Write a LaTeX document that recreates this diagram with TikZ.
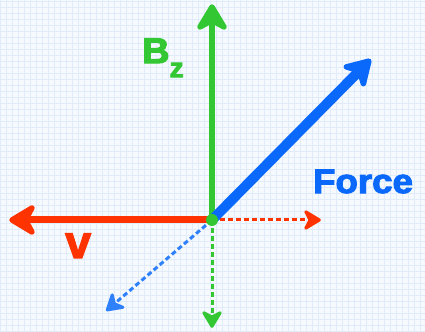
\documentclass[tikz,border=0pt]{standalone}
\usepackage{fontspec}
\setmainfont{Liberation Sans}
\newfontfamily\heavyfont[FakeBold=3]{Liberation Sans Bold}
\usetikzlibrary{arrows.meta, positioning}

\definecolor{bzgreen}{RGB}{51,200,51}
\definecolor{vred}{RGB}{255,51,0}
\definecolor{fblue}{RGB}{10,105,250}
\definecolor{paper}{RGB}{246,250,254}
\definecolor{gridline}{RGB}{224,236,250}

\begin{document}
\begin{tikzpicture}[x=1pt, y=1pt,
    bighead/.style={-{Stealth[length=32pt, width=38pt, inset=10pt, round]}},
    smallhead/.style={-{Stealth[length=20pt, width=24pt, inset=6pt, round]}},
    vec/.style={bighead, line width=#1},
    ghost/.style={smallhead, line width=3pt, dash pattern=on 5pt off 3pt},
    label/.style={inner sep=0pt, anchor=base west}]
    % paper
    \fill[paper] (0,0) rectangle (425,331);
    \draw[gridline, line width=0.5pt, step=6] (0,0) grid (425,331);
    \useasboundingbox (0,0) rectangle (425,331);

    \coordinate (o) at (212,111);
    \coordinate (btip) at (212,327);
    \coordinate (bback) at (212,3);
    \coordinate (vtip) at (9,111);
    \coordinate (vback) at (321,111);
    \coordinate (ftip) at (371,272);
    \coordinate (fback) at (106,20);

    % dashed opposites
    \draw[ghost, vred] (o) -- (vback);
    \draw[ghost, bzgreen] (o) -- (bback);
    \draw[ghost, fblue!85] (o) -- (fback);

    % the three vectors
    \draw[vec=6pt, bzgreen] (o) -- (btip);
    \draw[vec=7pt, vred] (o) -- (vtip);
    \draw[vec=10pt, fblue] (o) -- (ftip);
    \fill[bzgreen] (o) circle (6);

    \node[label, bzgreen, font=\heavyfont\fontsize{36}{36}\selectfont, xscale=1.05] (bzlabel) at (142,268)
        {B\raisebox{-14pt}{\fontsize{27}{27}\selectfont z}};
    \node[label, fblue, font=\heavyfont\fontsize{34}{34}\selectfont, xscale=1.08] (forcelabel) at (313,138) {Force};
    \node[label, vred, font=\heavyfont\fontsize{46}{46}\selectfont] (vlabel) at (65,73) {v};
\end{tikzpicture}
\end{document}
